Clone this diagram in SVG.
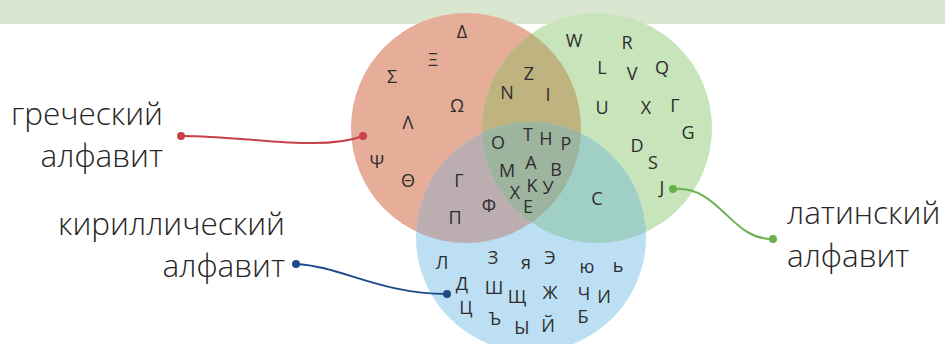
<svg xmlns="http://www.w3.org/2000/svg" width="945" height="344" viewBox="0 0 945 344">
<style>
.l{font-family:"Open Sans","Liberation Sans",sans-serif;font-size:18px;fill:#2d2d2d;text-anchor:middle}
.lab{font-family:"Open Sans","Liberation Sans",sans-serif;font-size:31.5px;font-weight:300;fill:#262626}
.c{fill:none;stroke-width:2}
</style>
<defs>
<clipPath id="cR"><circle cx="466" cy="128" r="115"/></clipPath>
<clipPath id="cG"><circle cx="597" cy="128" r="115"/></clipPath>
</defs>
<rect x="0" y="0" width="945" height="24" fill="#d9e7d1"/>
<g id="greek-circle"><circle cx="466" cy="128" r="115" fill="#e6ad98"/></g>
<g id="latin-circle">
<circle cx="597" cy="128" r="115" fill="#c8e4bb"/>
<circle cx="597" cy="128" r="115" fill="#bfb47f" clip-path="url(#cR)"/>
</g>
<g id="cyrillic-circle">
<circle cx="531" cy="237" r="115" fill="#bddff3"/>
<circle cx="531" cy="237" r="115" fill="#bcadb0" clip-path="url(#cR)"/>
<circle cx="531" cy="237" r="115" fill="#a0cfc6" clip-path="url(#cG)"/>
<g clip-path="url(#cR)"><circle cx="531" cy="237" r="115" fill="#9db59f" clip-path="url(#cG)"/></g>
</g>
<g id="greek-only" class="l">
<text x="462" y="38">Δ</text><text x="433" y="66">Ξ</text><text x="392" y="83">Σ</text><text x="457" y="112">Ω</text><text x="408" y="129">Λ</text><text x="377" y="168">Ψ</text><text x="408" y="187">Θ</text>
</g>
<g id="greek-latin" class="l">
<text x="529" y="80">Z</text><text x="507" y="99">N</text><text x="548" y="101">I</text>
</g>
<g id="latin-only" class="l">
<text x="574" y="47">W</text><text x="627" y="49">R</text><text x="602" y="74">L</text><text x="632" y="80">V</text><text x="662" y="74">Q</text><text x="602" y="114">U</text><text x="646" y="114">X</text><text x="675" y="112">Г</text><text x="688" y="139">G</text><text x="637" y="152">D</text><text x="653" y="169">S</text><text x="662" y="194">J</text>
</g>
<g id="all-three" class="l">
<text x="498" y="149">O</text><text x="528" y="141">T</text><text x="546" y="145">H</text><text x="566" y="150">P</text><text x="507" y="177">M</text><text x="531" y="169">A</text><text x="556" y="176">B</text><text x="515" y="199">X</text><text x="532" y="192">K</text><text x="548" y="194">У</text><text x="528" y="213">E</text>
</g>
<g id="greek-cyrillic" class="l">
<text x="459" y="187">Г</text><text x="489" y="212">Φ</text><text x="455" y="224">П</text>
</g>
<g id="latin-cyrillic" class="l"><text x="597" y="205">C</text></g>
<g id="cyrillic-only" class="l">
<text x="442" y="269">Л</text><text x="493" y="264">З</text><text x="526" y="269">я</text><text x="550" y="264">Э</text><text x="587" y="273">ю</text><text x="618" y="272">ь</text>
<text x="462" y="290">Д</text><text x="494" y="294">Ш</text><text x="517" y="303">Щ</text><text x="550" y="299">Ж</text><text x="584" y="300">Ч</text><text x="604" y="303">И</text>
<text x="466" y="314">Ц</text><text x="495" y="325">Ъ</text><text x="522" y="334">Ы</text><text x="548" y="332">Й</text><text x="583" y="323">Б</text>
</g>
<g id="label-greek" class="lab" text-anchor="end">
<text x="163" y="125">греческий</text><text x="163" y="167">алфавит</text>
</g>
<g id="label-cyrillic" class="lab" text-anchor="end">
<text x="285" y="235">кириллический</text><text x="285" y="277">алфавит</text>
</g>
<g id="label-latin" class="lab">
<text x="787" y="224">латинский</text><text x="787" y="267">алфавит</text>
</g>
<g id="connectors">
<path class="c" stroke="#c8414a" d="M181,136 C250,136 320,152 363,136"/>
<circle cx="181" cy="136" r="4" fill="#c8414a"/><circle cx="363" cy="136" r="4" fill="#c8414a"/>
<path class="c" stroke="#1e4a8a" d="M296,264 C340,266 380,294 447,294"/>
<circle cx="296" cy="264" r="4" fill="#1e4a8a"/><circle cx="447" cy="294" r="4" fill="#1e4a8a"/>
<path class="c" stroke="#6ab04c" d="M673,189 C720,185 730,240 773,239"/>
<circle cx="673" cy="189" r="4" fill="#6ab04c"/><circle cx="773" cy="239" r="4" fill="#6ab04c"/>
</g>
</svg>
